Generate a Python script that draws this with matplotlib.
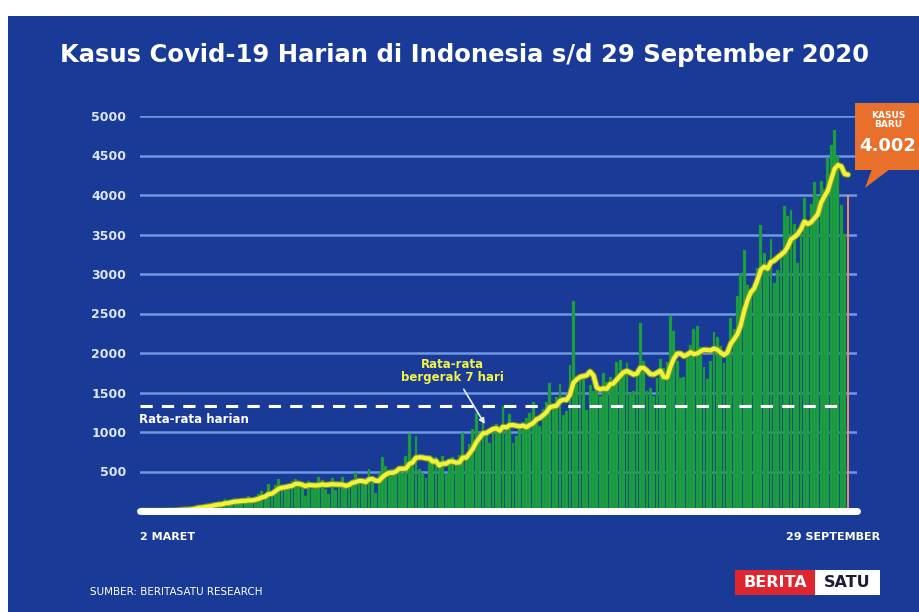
import numpy as np
import pandas as pd
import matplotlib
matplotlib.use("Agg")
import matplotlib.pyplot as plt
import matplotlib.patches as mpatches
import matplotlib.patheffects as pe

# daily new cases, 2 March .. 29 September 2020
maret = [2, 0, 0, 0, 2, 0, 2, 13, 8, 7, 0, 35, 27, 21, 17, 38, 55, 82, 60, 81,
         64, 65, 107, 105, 103, 153, 109, 130, 129, 114]
april = [149, 113, 196, 106, 181, 218, 247, 218, 337, 219, 330, 399, 316, 282, 297,
         380, 407, 325, 327, 185, 375, 283, 357, 436, 396, 275, 214, 415, 260, 347]
mei = [433, 292, 349, 395, 484, 367, 338, 336, 533, 387, 233, 484, 689, 568, 490, 529,
       489, 496, 486, 693, 973, 634, 949, 526, 479, 415, 686, 687, 678, 557, 700]
juni = [467, 609, 684, 585, 703, 993, 672, 847, 1043, 1241, 979, 1111, 1014, 857, 1017,
        1106, 1031, 1331, 1041, 1226, 862, 954, 1051, 1113, 1178, 1240, 1385, 1198, 1082, 1293]
juli = [1385, 1624, 1301, 1447, 1607, 1209, 1268, 1853, 2657, 1611, 1671, 1681, 1282, 1591,
        1522, 1574, 1462, 1752, 1639, 1693, 1655, 1882, 1906, 1761, 1868, 1492, 1525, 1748,
        2381, 1904, 1519]
agustus = [1560, 1462, 1679, 1922, 1815, 1882, 2473, 2277, 1893, 1687, 1693, 1942, 2098, 2307,
           2345, 2081, 1821, 1673, 1902, 2266, 2197, 2090, 1877, 2037, 2447, 2306, 2719, 3003,
           3308, 2858, 2743]
september = [2775, 3075, 3622, 3269, 3128, 3444, 2880, 3046, 3307, 3861, 3737, 3806, 3636, 3141,
             3507, 3963, 3635, 3891, 4168, 3989, 4176, 4071, 4465, 4634, 4823, 4494, 3874, 3509, 4002]

kasus = np.array(maret + april + mei + juni + juli + agustus + september)
hari = np.arange(len(kasus))
rata7 = pd.Series(kasus).rolling(7, min_periods=1).mean()
rata_harian = kasus.mean()

yticks = [500, 1000, 1500, 2000, 2500, 3000, 3500, 4000, 4500, 5000]

BG = "#1a3a98"
GRID = "#6d98e2"
NARROW = ["Liberation Sans Narrow", "DejaVu Sans"]

fig = plt.figure(figsize=(9.2, 6.12), dpi=100)
fig.patch.set_facecolor("white")
fig.patches.append(mpatches.Rectangle((8 / 920, 0), 1, 1 - 16 / 612, transform=fig.transFigure,
                                      facecolor=BG, edgecolor="none", zorder=-10))

ax = fig.add_axes([140 / 920, 101 / 612, 717 / 920, 395 / 612])
ax.set_zorder(2)
ax.set_facecolor("none")
ax.set_xlim(-0.4, 213.7)
ax.set_ylim(0, 5000)

for y in yticks:
    ax.axhline(y, color=GRID, lw=1.8, zorder=1)

ax.bar(hari[:-1], kasus[:-1], width=0.85, color="#1da045", edgecolor="#15873a",
       linewidth=0.3, zorder=2)
ax.bar(hari[-1], kasus[-1], width=0.7, color="#ea8a6c", zorder=2)

ax.hlines(rata_harian, -0.4, hari[-1] - 1, colors="white", linestyles=(0, (4, 3)),
          lw=2.2, zorder=3)
ax.plot(hari, rata7, color="#f0f23c", lw=3.0, zorder=4, solid_capstyle="round",
        path_effects=[pe.Stroke(linewidth=4.6, foreground="#7c9a24"), pe.Normal()])
ax.axhline(0, color="white", lw=5, zorder=5, clip_on=False, solid_capstyle="round")

ax.set_yticks(yticks)
ax.set_yticklabels([str(v) for v in yticks], color="#dde6f6", fontsize=9, fontweight="bold")
ax.tick_params(axis="y", length=0, pad=10)
ax.set_xticks([])
for s in ax.spines.values():
    s.set_visible(False)

ax.text(-0.8, rata_harian - 90, "Rata-rata harian", color="white", fontsize=8.5,
        fontweight="bold", va="top", ha="left", zorder=6)
ax.annotate("Rata-rata\nbergerak 7 hari", xy=(103, 1070), xytext=(93, 1770),
            color="#f3f545", fontsize=8.5, fontweight="bold", ha="center", va="center",
            linespacing=1.0, zorder=6,
            arrowprops=dict(arrowstyle="-|>", color="#e8ecf2", lw=1.2, mutation_scale=8))

fig.text(0.505, 0.91, "Kasus Covid-19 Harian di Indonesia s/d 29 September 2020",
         color="white", fontsize=17.5, fontweight="bold", ha="center", va="center",
         family=NARROW)

fig.text(140 / 920, 1 - 537 / 612, "2 MARET", color="white", fontsize=8, fontweight="bold",
         ha="left", va="center", family=NARROW)
fig.text(880 / 920, 1 - 537 / 612, "29 SEPTEMBER", color="white", fontsize=8, fontweight="bold",
         ha="right", va="center", family=NARROW)
fig.text(90 / 920, 1 - 592 / 612, "SUMBER: BERITASATU RESEARCH", color="white", fontsize=7.5,
         ha="left", va="center", family=NARROW)

# callout
orange = "#e8702a"
fig.patches.append(mpatches.Rectangle((855 / 920, 1 - 170 / 612), 70 / 920, 67 / 612,
                                      transform=fig.transFigure, facecolor=orange,
                                      edgecolor="none", zorder=5))
fig.patches.append(mpatches.Polygon([(872 / 920, 1 - 169 / 612), (890 / 920, 1 - 169 / 612),
                                     (865 / 920, 1 - 188 / 612)], closed=True,
                                    transform=fig.transFigure, facecolor=orange,
                                    edgecolor="none", zorder=5))
fig.text(888 / 920, 1 - 120 / 612, "KASUS\nBARU", color="white", fontsize=6.5, fontweight="bold",
         ha="center", va="center", linespacing=0.95, zorder=6)
fig.text(888 / 920, 1 - 146 / 612, "4.002", color="white", fontsize=13, fontweight="bold",
         ha="center", va="center", zorder=6)

# logo
fig.patches.append(mpatches.Rectangle((735 / 920, 1 - 595 / 612), 80 / 920, 25 / 612,
                                      transform=fig.transFigure, facecolor="#e0252e",
                                      edgecolor="none", zorder=5))
fig.patches.append(mpatches.Rectangle((815 / 920, 1 - 595 / 612), 65 / 920, 25 / 612,
                                      transform=fig.transFigure, facecolor="white",
                                      edgecolor="none", zorder=5))
fig.text(775 / 920, 1 - 582.5 / 612, "BERITA", color="white", fontsize=11.5, fontweight="bold",
         ha="center", va="center", family=NARROW, zorder=6)
fig.text(847.5 / 920, 1 - 582.5 / 612, "SATU", color="#1c1c34", fontsize=11.5, fontweight="bold",
         ha="center", va="center", family=NARROW, zorder=6)

fig.savefig("out.png", dpi=100, facecolor=fig.get_facecolor())
